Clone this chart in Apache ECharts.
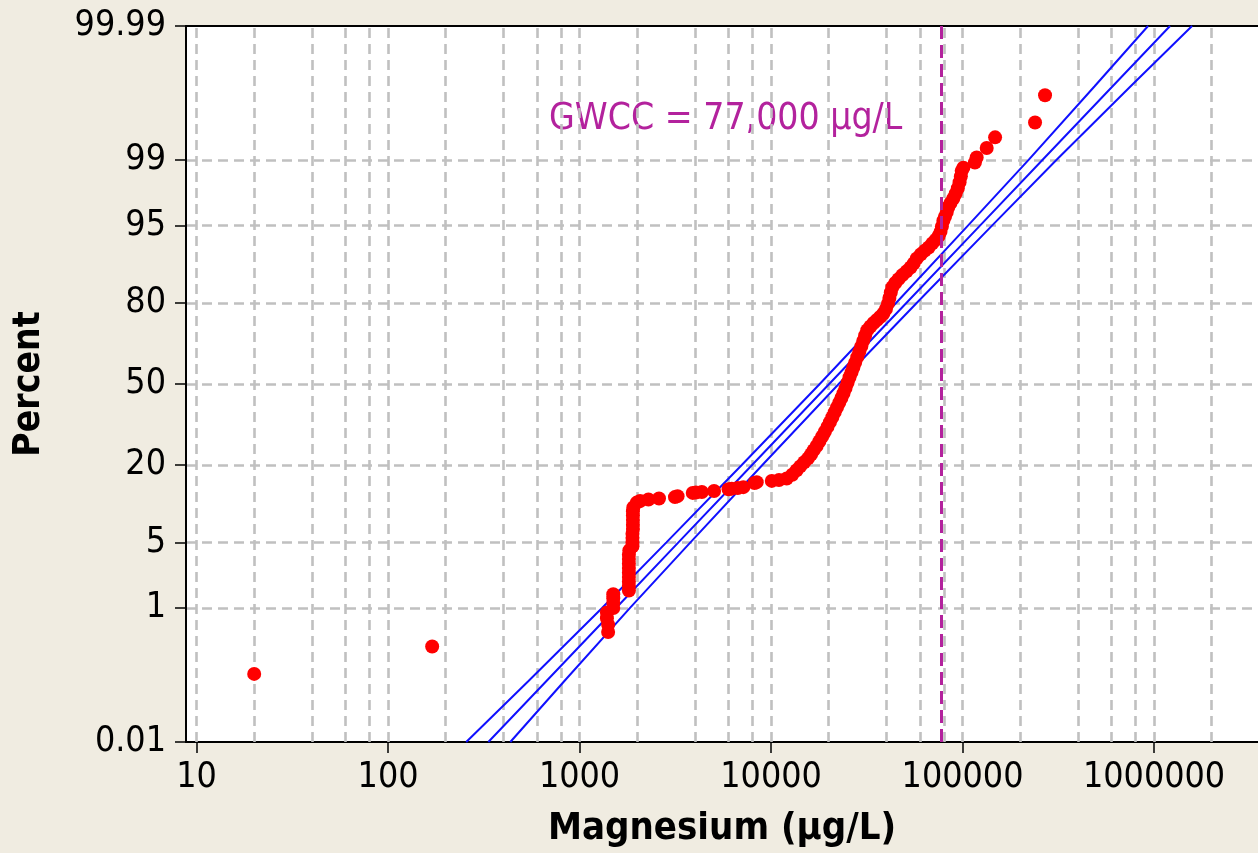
<!DOCTYPE html>
<html>
<head>
<meta charset="utf-8">
<title>Magnesium probability plot</title>
<script src="https://cdn.jsdelivr.net/npm/echarts@6.0.0/dist/echarts.min.js"></script>
<style>
  html, body { margin: 0; padding: 0; background: #f0ece1; }
  #chart { width: 1258px; height: 853px; }
</style>
</head>
<body>
<div id="chart"></div>
<script>
// measured values (µg/L) and plotting position (%)
const magX = [
  20, 170, 1410, 1410, 1390, 1390, 1500, 1500, 1500, 1500,
  1810, 1810, 1810, 1810, 1810, 1810, 1810, 1810, 1810, 1820,
  1890, 1890, 1890, 1890, 1900, 1900, 1900, 1900, 1900, 1910,
  1990, 2070, 2290, 2600, 3150, 3250, 3900, 4050, 4350, 5040,
  6000, 6235, 6700, 7165, 8200, 8420, 10090, 11000, 12070,
  12900, 13600, 14200, 14900, 15600, 16200, 16700, 17300, 17900, 18500,
  19100, 19700, 20300, 20900, 21500, 22100, 22700, 23300, 23900, 24500,
  25100, 25700, 26300, 26900, 27500, 28200, 28900, 29600, 30300, 31000,
  31800, 33000, 34300, 35700, 37100, 38600, 39800, 40800, 41500, 42200,
  43000, 44500, 46300, 48500, 51000, 53500, 55600, 57700, 60500, 63500,
  66500, 69500, 72500, 75000, 76700, 78000, 79400, 81000, 82700, 84300,
  86500, 89500, 92000, 94500, 96500, 98000, 99000, 101000,
  116000, 118500, 133700, 147900, 239100, 269600
];
const magPct = [
  0.13, 0.32, 0.50, 0.62, 0.75, 0.88, 1.00, 1.15, 1.30, 1.45,
  1.60, 1.80, 2.00, 2.25, 2.50, 2.80, 3.10, 3.45, 3.80, 4.20,
  4.60, 5.00, 5.50, 6.00, 6.60, 7.20, 7.90, 8.60, 9.30, 10.0,
  10.9, 11.2, 11.5, 11.7, 12.0, 12.2, 12.9, 13.0, 13.1, 13.3,
  13.7, 13.85, 14.0, 14.2, 15.2, 15.4, 15.7, 15.9, 16.3,
  17.3, 18.5, 19.6, 20.8, 22.0, 23.3, 24.6, 26.0, 27.6, 29.3,
  31.0, 32.8, 34.6, 36.5, 38.5, 40.4, 42.3, 44.2, 46.2, 48.3,
  50.5, 52.8, 54.8, 56.8, 58.8, 61.0, 63.1, 65.2, 67.3, 69.3,
  71.2, 72.5, 73.7, 74.7, 75.7, 76.8, 78.2, 79.8, 81.4, 82.9,
  84.3, 85.3, 86.2, 87.1, 87.9, 88.7, 89.5, 90.4, 91.1, 91.7,
  92.2, 92.8, 93.3, 93.8, 94.3, 94.9, 95.5, 95.9, 96.3, 96.7,
  97.0, 97.3, 97.6, 97.9, 98.2, 98.45, 98.66, 98.77,
  98.93, 99.07, 99.29, 99.48, 99.67, 99.865
];

// lognormal fit and its confidence band
const bandPct = [0.01, 0.1, 1, 5, 20, 50, 80, 95, 99, 99.9, 99.99];
const fitX = [334, 668, 1551, 3284, 7961, 20120, 50870, 123300, 261200, 606000, 1212000];
const lowerX = [256, 538, 1311, 2842, 7032, 17950, 44950, 106700, 220700, 488100, 930500];
const upperX = [435, 829, 1835, 3794, 9010, 22560, 57590, 142500, 309000, 752500, 1579000];

// axes
const yTickPct = [0.01, 1, 5, 20, 50, 80, 95, 99, 99.99];
const yTickLabels = ["0.01", "1", "5", "20", "50", "80", "95", "99", "99.99"];
const gridX = [
  10, 20, 40, 60, 80, 100, 200, 400, 600, 800, 1000, 2000, 4000, 6000, 8000,
  10000, 20000, 40000, 60000, 80000, 100000, 200000, 400000, 600000, 800000,
  1000000, 2000000
];
const xMin = 8.81;
const xMax = 3490000;
const gwcc = 77000;

const FONT = "'DejaVu Sans Condensed', 'Liberation Sans', sans-serif";
const GRID_LINE = { color: "#c0c0c0", width: 2.6, type: [10, 6] };
const GWCC_COLOR = "#b3229d";
const BLACK_LINE = { color: "#000", width: 2 };

//正态分布反函数 (Acklam)
const probit = (p) => {
  const a = [-39.69683028665376, 220.9460984245205, -275.9285104469687, 138.357751867269, -30.66479806614716, 2.506628277459239];
  const b = [-54.47609879822406, 161.5858368580409, -155.6989798598866, 66.80131188771972, -13.28068155288572];
  const c = [-0.007784894002430293, -0.3223964580411365, -2.400758277161838, -2.549732539343734, 4.374664141464968, 2.938163982698783];
  const d = [0.007784695709041462, 0.3224671290700398, 2.445134137142996, 3.754408661907416];
  const pl = 0.02425;
  if (p < pl) {
    const q = Math.sqrt(-2 * Math.log(p));
    return (((((c[0] * q + c[1]) * q + c[2]) * q + c[3]) * q + c[4]) * q + c[5]) /
      ((((d[0] * q + d[1]) * q + d[2]) * q + d[3]) * q + 1);
  }
  if (p > 1 - pl) {
    const q = Math.sqrt(-2 * Math.log(1 - p));
    return -(((((c[0] * q + c[1]) * q + c[2]) * q + c[3]) * q + c[4]) * q + c[5]) /
      ((((d[0] * q + d[1]) * q + d[2]) * q + d[3]) * q + 1);
  }
  const q = p - 0.5;
  const r = q * q;
  return (((((a[0] * r + a[1]) * r + a[2]) * r + a[3]) * r + a[4]) * r + a[5]) * q /
    (((((b[0] * r + b[1]) * r + b[2]) * r + b[3]) * r + b[4]) * r + 1);
};

const zTicks = yTickPct.map((p) => probit(p / 100));
const pairs = (xs, ps) => xs.map((x, i) => [x, probit(ps[i] / 100)]);

const bandLine = (name, xs) => ({
  name,
  type: "line",
  data: pairs(xs, bandPct),
  symbol: "none",
  z: 2,
  lineStyle: { color: "#1010ff", width: 2 },
});

const chart = echarts.init(document.getElementById("chart"));
chart.setOption({
  animation: false,
  backgroundColor: "#f0ece1",
  grid: {
    left: 186,
    top: 26,
    right: 0,
    bottom: 111,
    show: true,
    backgroundColor: "#fff",
    borderWidth: 0,
  },
  xAxis: [
    {
      type: "log",
      logBase: 10,
      min: xMin,
      max: xMax,
      name: "Magnesium (µg/L)",
      nameLocation: "middle",
      nameGap: 68,
      nameTextStyle: { fontFamily: FONT, fontWeight: "bold", fontSize: 38, color: "#000" },
      axisLine: { show: true, onZero: false, lineStyle: BLACK_LINE },
      axisTick: { show: true, length: 11, lineStyle: { color: "#000", width: 1.5 } },
      axisLabel: {
        showMinLabel: false,
        showMaxLabel: false,
        margin: 18,
        fontFamily: FONT,
        fontSize: 35.5,
        color: "#000",
        formatter: (v) => String(v),
      },
      splitLine: { show: false },
    },
    {
      // 顶部边框
      type: "log",
      logBase: 10,
      min: xMin,
      max: xMax,
      position: "top",
      axisLine: { show: true, onZero: false, lineStyle: BLACK_LINE },
      axisTick: { show: false },
      axisLabel: { show: false },
      splitLine: { show: false },
    },
  ],
  yAxis: {
    type: "value",
    min: zTicks[0],
    max: zTicks[zTicks.length - 1],
    name: "Percent",
    nameLocation: "middle",
    nameGap: 138,
    nameRotate: 90,
    nameTextStyle: { fontFamily: FONT, fontWeight: "bold", fontSize: 37, color: "#000" },
    axisLine: { show: true, onZero: false, lineStyle: BLACK_LINE },
    axisTick: { show: true, length: 11, customValues: zTicks, lineStyle: { color: "#000", width: 1.5 } },
    axisLabel: {
      customValues: zTicks,
      margin: 20,
      fontFamily: FONT,
      fontSize: 35.5,
      color: "#000",
      formatter: (v) => {
        const i = zTicks.findIndex((z) => Math.abs(z - v) < 1e-3);
        return i >= 0 ? yTickLabels[i] : "";
      },
    },
    splitLine: { show: true, showMinLine: false, showMaxLine: false, lineStyle: GRID_LINE },
  },
  graphic: [
    {
      type: "text",
      left: 549,
      top: 101,
      style: {
        text: "GWCC = 77,000 µg/L",
        fill: GWCC_COLOR,
        fontFamily: FONT,
        fontSize: 37,
      },
    },
  ],
  series: [
    {
      ...bandLine("lower", lowerX),
      // 竖向网格线
      markLine: {
        silent: true,
        z: 1,
        symbol: "none",
        label: { show: false },
        lineStyle: GRID_LINE,
        data: gridX.map((v) => ({ xAxis: v })),
      },
    },
    bandLine("upper", upperX),
    {
      ...bandLine("fit", fitX),
      markLine: {
        silent: true,
        z: 5,
        symbol: "none",
        label: { show: false },
        lineStyle: { color: GWCC_COLOR, width: 3, type: [13, 6] },
        data: [{ xAxis: gwcc }],
      },
    },
    {
      name: "Magnesium",
      type: "scatter",
      data: pairs(magX, magPct),
      symbolSize: 14,
      z: 3,
      itemStyle: { color: "#ff0000", opacity: 1 },
    },
  ],
});
</script>
</body>
</html>
